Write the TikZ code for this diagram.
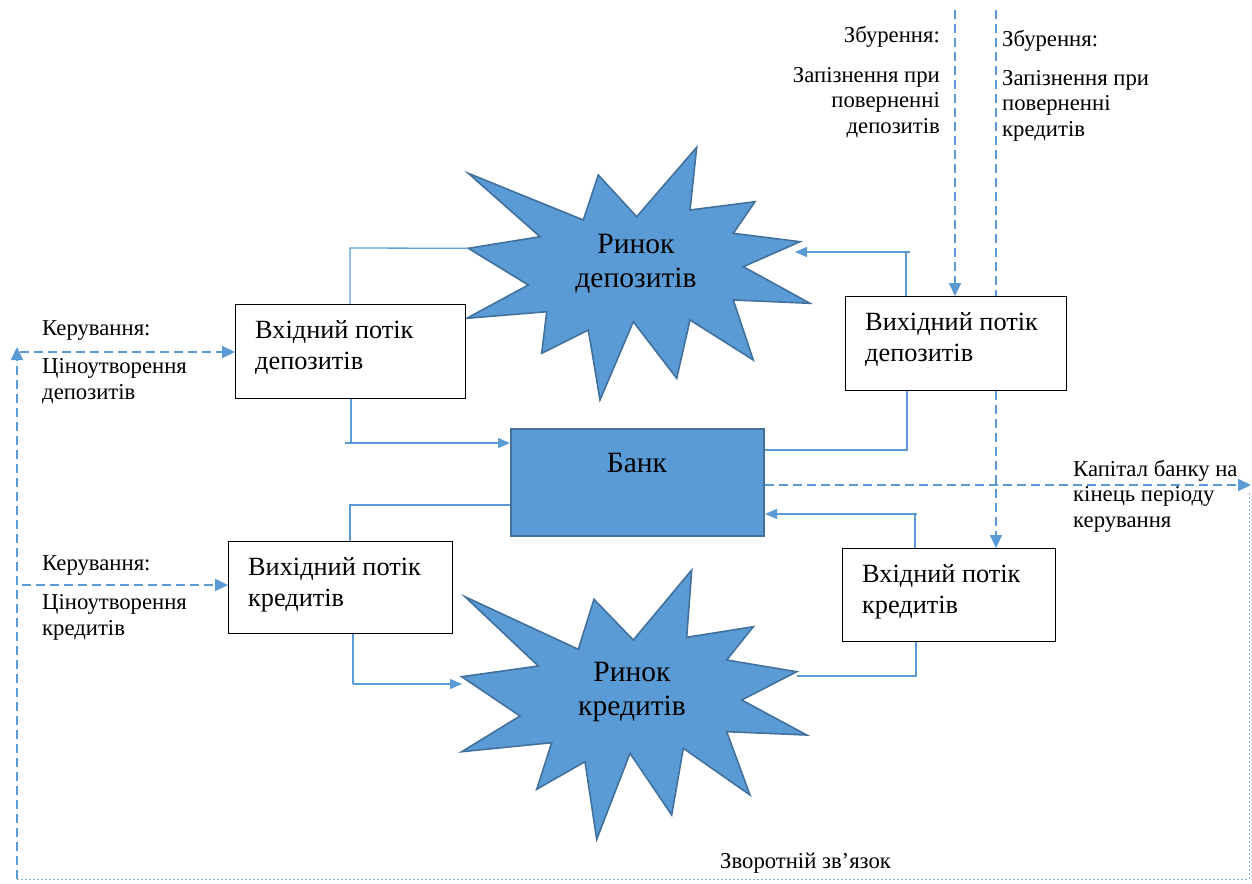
\documentclass[tikz,border=0pt]{standalone}
\usepackage{fontspec}
\setmainfont{Liberation Serif}
\usetikzlibrary{arrows.meta}
\definecolor{acc}{HTML}{5B9BD5}
\definecolor{accd}{HTML}{41719C}
\begin{document}
\begin{tikzpicture}[x=1pt,y=-1pt,
  box/.style={draw=black, line width=1pt, fill=white, anchor=north west, inner sep=0pt},
  bankbox/.style={draw=accd, line width=2pt, fill=acc, anchor=north west, inner sep=0pt},
  starshape/.style={fill=acc, draw=accd, line width=1.6pt, line join=miter},
  flow/.style={draw=acc, line width=1.3pt},
  ctrl/.style={draw=acc, line width=2.2pt, dash pattern=on 9pt off 5pt},
  fbdot/.style={draw=acc!80, line width=1pt, dash pattern=on 2pt off 2pt},
  tip/.style={-{Triangle[length=13pt,width=12pt]}},
  ftip/.style={-{Triangle[length=12pt,width=10pt]}},
  lbl/.style={font=\fontsize{22.7}{25.5}\selectfont, inner sep=0pt},
  btxt/.style={font=\fontsize{26.3}{31}\selectfont, inner sep=0pt, align=left, anchor=base west},
  big/.style={font=\fontsize{29.5}{34}\selectfont, inner sep=0pt, align=center, anchor=base}
]
\useasboundingbox (0,0) rectangle (1252,883);

% stars
\filldraw[starshape] (468.3,173.3) -- (583.3,220) -- (598.3,175) -- (636.7,216.7) -- (696.7,147.3) -- (690,210) -- (755,201.7) -- (733.3,233.3) -- (800,241.7) -- (743.3,266.7) -- (810,303.3) -- (733.3,300) -- (753.3,360) -- (690,320) -- (676.7,378.3) -- (633.3,321.7) -- (600,400) -- (588.3,330) -- (541.7,353.3) -- (546.7,311.7) -- (466.7,318.3) -- (528.3,285) -- (468.3,248.3) -- (540,236.7) -- cycle;
\filldraw[starshape] (465,596.7) -- (578.3,649.3) -- (594,599.3) -- (633.3,640) -- (691.7,570) -- (686.7,637.3) -- (753.3,626.7) -- (726.7,660) -- (796.7,671.7) -- (741.7,700) -- (806.7,735) -- (726.7,731.7) -- (750,795) -- (683.3,748.3) -- (671.7,815) -- (630,753.3) -- (596.7,839.3) -- (585,761.7) -- (536.7,789.3) -- (551.7,742.7) -- (461.7,751.7) -- (520,716) -- (461.7,676.7) -- (538.3,666) -- cycle;
% (base anchor of a multi-line node = baseline of its last line)
\node[big] (mDep) at (636,287) {Ринок\\депозитів};
\node[big] (mCred) at (632,715) {Ринок\\кредитів};

% star attachment points
\coordinate (s1W) at (468.3,248.3);
\coordinate (s1E) at (795,252);
\coordinate (s2W) at (462,684);
\coordinate (s2E) at (797,676);

% boxes
\node[box, minimum width=230pt, minimum height=94pt] (dIn) at (235,304) {};
\node[box, minimum width=221pt, minimum height=94pt] (dOut) at (845,296) {};
\node[bankbox, minimum width=253pt, minimum height=107pt] (bank) at (510,428) {};
\node[box, minimum width=224pt, minimum height=92pt] (cOut) at (228,541) {};
\node[box, minimum width=213pt, minimum height=93pt] (cIn) at (842,548) {};

\node[btxt] (dInT) at (255,369) {Вхідний потік\\депозитів};
\node[btxt] (dOutT) at (865,361) {Вихідний потік\\депозитів};
\node[btxt] (cOutT) at (248,606) {Вихідний потік\\кредитів};
\node[btxt] (cInT) at (862,613) {Вхідний потік\\кредитів};
\node[big] (bankT) at (637,472) {Банк};

% solid flows
\coordinate (b1) at (350,248);
\draw[flow] (dIn.north -| b1) -- (b1) -- (s1W);
\coordinate (b2) at (351,443);
\draw[flow] (dIn.south -| b2) -- (b2);
\draw[flow, ftip] (345,443) -- (bank.west |- b2);
\coordinate (b3) at (906,252);
\draw[flow] (dOut.north -| b3) -- (b3);
\draw[flow, ftip] (910,252) -- (s1E);
\coordinate (b4) at (907,450);
\draw[flow] (dOut.south -| b4) -- (b4) -- (bank.east |- b4);
\coordinate (b5) at (350,505);
\draw[flow] (bank.west |- b5) -- (b5) -- (b5 |- cOut.north);
\coordinate (b6) at (353,684);
\draw[flow] (cOut.south -| b6) -- (b6);
\draw[flow, ftip] (b6) -- (s2W);
\coordinate (b7) at (916,676);
\draw[flow] (s2E) -- (b7) -- (b7 |- cIn.south);
\coordinate (b8) at (915,514);
\draw[flow] (cIn.north -| b8) -- (b8);
\draw[flow, ftip] (917,514) -- (bank.east |- b8);

% disturbances
\coordinate (zD) at (955,10);
\draw[ctrl, tip] (zD) -- (zD |- dOut.north);
\coordinate (zC) at (996,10);
\draw[ctrl] (zC) -- (zC |- dOut.north);
\draw[ctrl, tip] (zC |- dOut.south) -- (zC |- cIn.north);

% capital output and feedback
\coordinate (capEnd) at (1251,485);
\draw[ctrl, tip] (bank.east |- capEnd) -- (capEnd);
\coordinate (fbR) at (1249,493);
\coordinate (fbBR) at (1249,879);
\coordinate (fbBL) at (17,879);
\coordinate (fbTL) at (17,347);
\draw[fbdot] (fbR) -- (fbBR) -- (fbBL);
\draw[ctrl, tip] (fbBL) -- (fbTL);
\coordinate (fbH1) at (20,352);
\draw[ctrl, tip] (fbH1) -- (dIn.west |- fbH1);
\coordinate (fbH2) at (22,585);
\draw[ctrl, tip] (fbH2) -- (cOut.west |- fbH2);

% labels
\node[lbl, anchor=base west] (kerD) at (42,335) {Керування:};
\node[lbl, anchor=base west, align=left] (cinD) at (42,399) {Ціноутворення\\депозитів};
\node[lbl, anchor=base west] (kerC) at (42,570) {Керування:};
\node[lbl, anchor=base west, align=left] (cinC) at (42,635) {Ціноутворення\\кредитів};
\node[lbl, anchor=base east] (zbD) at (940,43) {Збурення:};
\node[lbl, anchor=base east, align=right] (zapD) at (940,133) {Запізнення при\\поверненні\\депозитів};
\node[lbl, anchor=base west] (zbC) at (1002,47) {Збурення:};
\node[lbl, anchor=base west, align=left] (zapC) at (1002,136) {Запізнення при\\поверненні\\кредитів};
\node[lbl, anchor=base west, align=left] (cap) at (1073,527) {Капітал банку на\\кінець періоду\\керування};
\node[lbl, anchor=base west] (fb) at (720,868) {Зворотній зв’язок};
\end{tikzpicture}
\end{document}
